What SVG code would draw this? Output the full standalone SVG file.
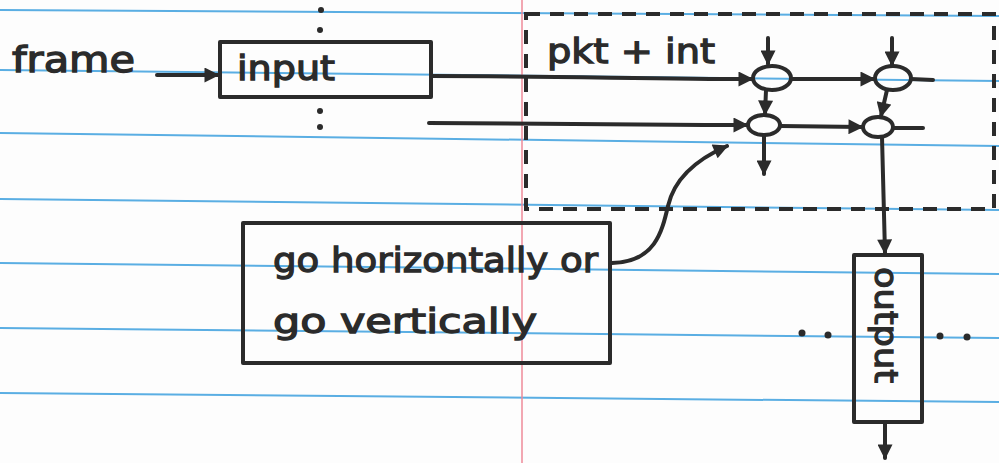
<svg xmlns="http://www.w3.org/2000/svg" width="999" height="463" viewBox="0 0 999 463">
<defs>
<style>
.paper{stroke:#5aaee3;stroke-width:2;fill:none}
.margin{stroke:#ee8a98;stroke-width:1.5;fill:none}
.ink{stroke:#2b2b2b;stroke-width:4;fill:none;stroke-linecap:round;stroke-linejoin:round}
.dash{stroke:#2b2b2b;stroke-width:4;fill:none;stroke-dasharray:14 10}
.txt{font-family:"DejaVu Sans","Noto Sans",sans-serif;fill:#2b2b2b;stroke:#2b2b2b;stroke-width:1.3}
.dot{fill:#2b2b2b}
</style>
<marker id="ah" viewBox="0 0 10 10" refX="9" refY="5" markerWidth="17" markerHeight="15" markerUnits="userSpaceOnUse" orient="auto">
<path d="M0,0 L10,5 L0,10 z" fill="#2b2b2b"/>
</marker>
</defs>
<rect width="999" height="463" fill="#fdfdfd"/>
<g id="paper">
<line class="paper" x1="0" y1="10" x2="999" y2="16"/>
<line class="paper" x1="0" y1="70" x2="999" y2="81"/>
<line class="paper" x1="0" y1="133" x2="999" y2="146"/>
<line class="paper" x1="0" y1="199" x2="999" y2="210"/>
<line class="paper" x1="0" y1="263" x2="999" y2="274"/>
<line class="paper" x1="0" y1="328" x2="999" y2="338"/>
<line class="paper" x1="0" y1="393" x2="999" y2="402"/>
<line class="margin" x1="522" y1="0" x2="522" y2="463"/>
</g>
<g id="frame-label">
<text class="txt" x="12" y="72" font-size="36" textLength="123" lengthAdjust="spacingAndGlyphs">frame</text>
</g>
<g id="input">
<rect class="ink" x="220" y="42" width="211" height="55"/>
<text class="txt" x="237" y="80" font-size="34" textLength="98" lengthAdjust="spacingAndGlyphs">input</text>
</g>
<g id="input-dots">
<circle class="dot" cx="321" cy="10" r="3"/>
<circle class="dot" cx="320" cy="30" r="3"/>
<circle class="dot" cx="320" cy="111" r="3"/>
<circle class="dot" cx="320" cy="127" r="3"/>
</g>
<g id="pkt-int">
<rect class="dash" x="526" y="14" width="468" height="195"/>
<text class="txt" x="547" y="63" font-size="34" textLength="168" lengthAdjust="spacingAndGlyphs">pkt + int</text>
</g>
<g id="node-e1"><ellipse class="ink" cx="772" cy="78" rx="19" ry="12"/></g>
<g id="node-e2"><ellipse class="ink" cx="893" cy="78" rx="18" ry="12"/></g>
<g id="node-e3"><ellipse class="ink" cx="764" cy="125" rx="16" ry="10"/></g>
<g id="node-e4"><ellipse class="ink" cx="878" cy="127" rx="15" ry="10"/></g>
<g id="note">
<rect class="ink" x="243" y="223" width="367" height="140"/>
<text class="txt" x="273" y="272" font-size="34" textLength="325" lengthAdjust="spacingAndGlyphs">go horizontally or</text>
<text class="txt" x="273" y="333" font-size="34" textLength="264" lengthAdjust="spacingAndGlyphs">go vertically</text>
</g>
<g id="output">
<rect class="ink" x="854" y="255" width="68" height="167"/>
<text class="txt" font-size="32" transform="translate(875,267) rotate(90)" textLength="116" lengthAdjust="spacingAndGlyphs">output</text>
</g>
<g id="output-dots">
<circle class="dot" cx="802" cy="333" r="3.5"/>
<circle class="dot" cx="828" cy="335" r="3.5"/>
<circle class="dot" cx="940" cy="336" r="3.5"/>
<circle class="dot" cx="967" cy="337" r="3.5"/>
</g>
<g id="connectors">
<line class="ink" x1="157" y1="75" x2="218" y2="75" marker-end="url(#ah)"/>
<path class="ink" d="M431,76 C560,76 650,79 752,79" marker-end="url(#ah)"/>
<path class="ink" d="M429,123 C560,123 650,125 747,125" marker-end="url(#ah)"/>
<line class="ink" x1="768" y1="38" x2="768" y2="64" marker-end="url(#ah)"/>
<line class="ink" x1="892" y1="38" x2="892" y2="65" marker-end="url(#ah)"/>
<line class="ink" x1="766" y1="90" x2="765" y2="114" marker-end="url(#ah)"/>
<line class="ink" x1="887" y1="90" x2="881" y2="116" marker-end="url(#ah)"/>
<line class="ink" x1="791" y1="79" x2="874" y2="79" marker-end="url(#ah)"/>
<line class="ink" x1="911" y1="79" x2="933" y2="80"/>
<line class="ink" x1="780" y1="126" x2="862" y2="127" marker-end="url(#ah)"/>
<line class="ink" x1="893" y1="128" x2="923" y2="128"/>
<line class="ink" x1="764" y1="135" x2="764" y2="174" marker-end="url(#ah)"/>
<line class="ink" x1="882" y1="137" x2="885" y2="253" marker-end="url(#ah)"/>
<line class="ink" x1="885" y1="422" x2="885" y2="458" marker-end="url(#ah)"/>
<path class="ink" d="M612,263 C655,262 662,232 668,206 C674,180 695,160 727,146" marker-end="url(#ah)"/>
</g>
</svg>
